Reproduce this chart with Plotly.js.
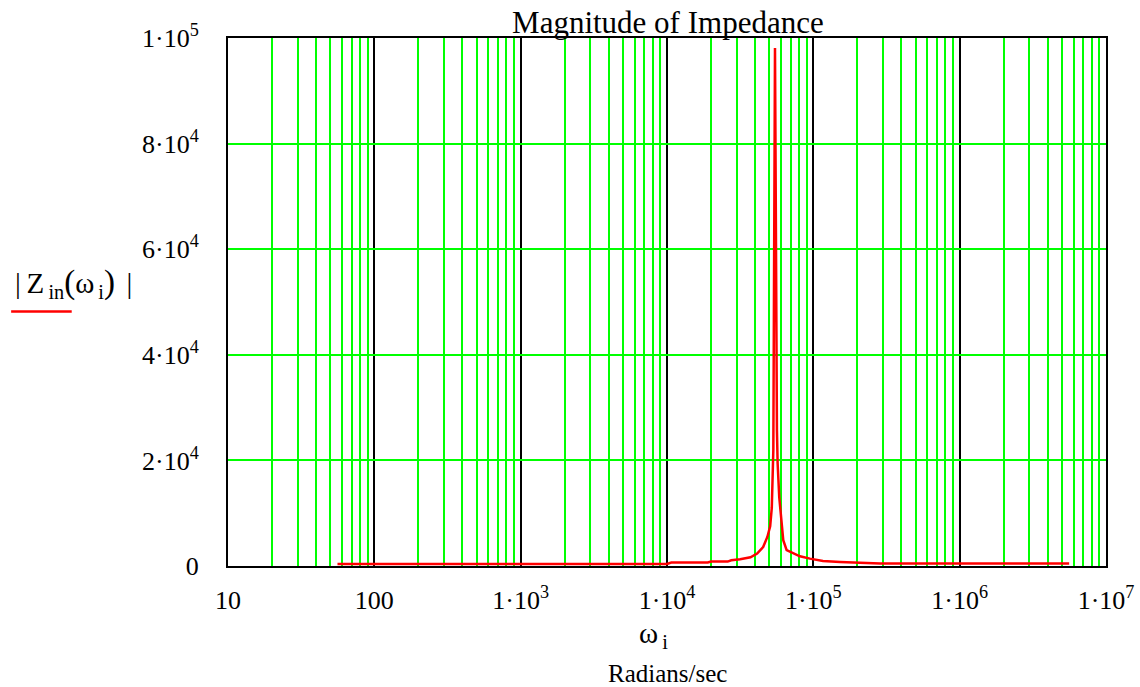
<!DOCTYPE html>
<html>
<head>
<meta charset="utf-8">
<script src="https://cdn.plot.ly/plotly-3.0.1.min.js"></script>
<style>
  html, body { margin: 0; padding: 0; background: #fff; }
  #chart { width: 1140px; height: 687px; }
</style>
</head>
<body>
<div id="chart"></div>
<script>
// Angular frequency samples (rad/s) and impedance magnitude (ohm)
const omega = [56, 10000, 10700, 19000, 20000, 26000, 27500, 31600, 37200, 41300, 45400, 48500,
               50700, 52000, 53300, 54700, 56400, 57000, 58500, 60700, 62300, 65700, 72900, 81000,
               94800, 102600, 116300, 152300, 208700, 286000, 5600000];
const zinMag = [380, 380, 640, 650, 830, 840, 1080, 1270, 1650, 2350, 3600, 5500,
                7500, 11000, 22000, 98100, 25700, 19500, 13000, 8700, 4900, 3000, 2350, 1840,
                1400, 1210, 950, 760, 570, 455, 450];

// Tick labels
const xTickVals = [10, 100, 1e3, 1e4, 1e5, 1e6, 1e7];
const xTickText = ['10', '100', '1\u00B710<sup>3</sup>', '1\u00B710<sup>4</sup>', '1\u00B710<sup>5</sup>',
                   '1\u00B710<sup>6</sup>', '1\u00B710<sup>7</sup>'];
const yTickVals = [0, 2e4, 4e4, 6e4, 8e4, 1e5];
const yTickText = ['0', '2\u00B710<sup>4</sup>', '4\u00B710<sup>4</sup>', '6\u00B710<sup>4</sup>',
                   '8\u00B710<sup>4</sup>', '1\u00B710<sup>5</sup>'];
const minorMultipliers = [2, 3, 4, 5, 6, 7, 8, 9];
const decades = [10, 100, 1e3, 1e4, 1e5, 1e6];
const xMinorVals = [];
decades.forEach(d => minorMultipliers.forEach(m => xMinorVals.push(d * m)));

const serif = '"Liberation Serif", "Times New Roman", serif';

const trace = {
  x: omega,
  y: zinMag,
  type: 'scatter',
  mode: 'lines',
  line: { color: '#ff0000', width: 2.5 },
  hoverinfo: 'x+y',
  showlegend: false
};

const layout = {
  width: 1140,
  height: 687,
  paper_bgcolor: '#ffffff',
  plot_bgcolor: '#ffffff',
  margin: { l: 228, r: 34, t: 38, b: 121 },
  font: { family: serif, color: '#000', size: 26 },
  title: {
    text: 'Magnitude of Impedance',
    font: { family: serif, size: 31, color: '#000' },
    x: 0.501, xanchor: 'center', xref: 'paper',
    y: 1, yref: 'paper', yanchor: 'bottom', pad: { b: 5 }
  },
  xaxis: {
    type: 'log',
    range: [1, 7],
    tickmode: 'array',
    tickvals: xTickVals,
    ticktext: xTickText,
    ticks: '',
    ticklabelstandoff: 10,
    showgrid: true,
    gridcolor: '#000000',
    gridwidth: 2,
    minor: { tickmode: 'array', tickvals: xMinorVals, showgrid: true, gridcolor: '#00ff00', gridwidth: 2, ticks: '' },
    showline: true, linecolor: '#000', linewidth: 2, mirror: true,
    zeroline: false,
    tickfont: { family: serif, size: 26, color: '#000' }
  },
  yaxis: {
    range: [0, 1e5],
    tickmode: 'array',
    tickvals: yTickVals,
    ticktext: yTickText,
    ticks: '',
    ticklabelstandoff: 22,
    showgrid: true,
    gridcolor: '#00ff00',
    gridwidth: 2,
    showline: true, linecolor: '#000', linewidth: 2, mirror: true,
    zeroline: false,
    tickfont: { family: serif, size: 26, color: '#000' }
  },
  annotations: [
    {
      text: '|\u2009Z<sub>\u2009in</sub><span style="font-size:33px">(</span>\u03C9<sub>\u2009i</sub><span style="font-size:33px">)</span>\u2009\u2009|',
      xref: 'paper', yref: 'paper',
      x: -0.245, y: 0.535, xanchor: 'left', yanchor: 'middle',
      showarrow: false,
      font: { family: serif, size: 29, color: '#000' }
    },
    {
      text: '\u03C9<sub>\u2009i</sub>',
      xref: 'paper', yref: 'paper',
      x: 0.485, y: -0.13, xanchor: 'center', yanchor: 'middle',
      showarrow: false,
      font: { family: serif, size: 29, color: '#000' }
    },
    {
      text: 'Radians/sec',
      xref: 'paper', yref: 'paper',
      x: 0.501, y: -0.203, xanchor: 'center', yanchor: 'middle',
      showarrow: false,
      font: { family: serif, size: 25, color: '#000' }
    }
  ],
  shapes: [
    {
      type: 'line', xref: 'paper', yref: 'paper',
      x0: -0.247, x1: -0.178, y0: 0.482, y1: 0.482,
      line: { color: '#ff0000', width: 2.5 }
    }
  ]
};

Plotly.newPlot('chart', [trace], layout, { displayModeBar: false, staticPlot: true });
</script>
</body>
</html>
